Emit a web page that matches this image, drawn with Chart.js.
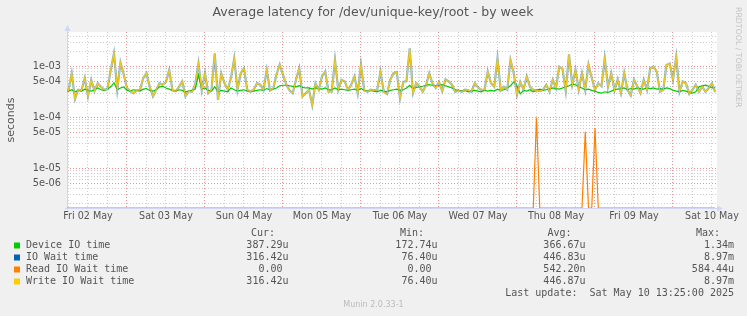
<!DOCTYPE html>
<html>
<head>
<meta charset="utf-8">
<title>Average latency for /dev/unique-key/root - by week</title>
<script src="https://cdn.jsdelivr.net/npm/chart.js@4.4.1/dist/chart.umd.min.js"></script>
<style>
    html, body { margin: 0; padding: 0; background: #f0f0f0; }
    canvas { display: block; }
</style>
</head>
<body>
<canvas id="chart" width="747" height="316"></canvas>
<script>
"use strict";

// x axis: hours since Fri 02 May 00:00, one sample per hour
var firstHour = 5;
var lastHour = 205;
var dayLabels = ["Fri 02 May", "Sat 03 May", "Sun 04 May", "Mon 05 May", "Tue 06 May",
    "Wed 07 May", "Thu 08 May", "Fri 09 May", "Sat 10 May"];

// values in microseconds
var deviceIo = [
    340, 330, 350, 320, 340, 330, 360, 340, 330, 350, 380, 350, 340, 360, 400, 480, 350, 380, 400, 340,
    330, 350, 340, 330, 360, 370, 340, 330, 350, 400, 410, 380, 360, 340, 330,
    350, 340, 320, 330, 340, 360, 680, 360, 380, 340, 330, 400, 320, 340, 330, 320, 380, 350, 330, 340,
    350, 330, 320, 330, 340, 350, 340, 370, 350, 360, 380, 420, 430,
    430, 420, 410, 400, 420, 390, 380, 380, 360, 380, 370, 360, 380, 350, 350, 380, 350, 360, 350, 340,
    350, 360, 340, 370, 340, 330, 340, 330, 320, 340, 330, 320, 340, 350,
    360, 340, 350, 380, 430, 370, 390, 400, 410, 430, 440, 430, 420, 430, 440, 420, 400, 380, 350, 340,
    330, 340, 320, 330, 340, 330, 320, 340, 330, 340, 330, 360, 340, 350,
    380, 420, 500, 420, 290, 340, 330, 350, 320, 340, 360, 340, 350, 360, 380, 370, 360, 380, 400, 420,
    450, 440, 400, 380, 350, 360, 340, 330, 310, 300, 320, 310, 330, 350,
    360, 370, 380, 350, 370, 360, 380, 370, 360, 380, 370, 380, 360, 370, 360, 380, 370, 340, 330, 320,
    340, 330, 310, 300, 320, 400, 420, 430, 410, 380, 387
];

var writeWait = [
    330,
    340, 740, 230, 350, 340, 590, 260, 550, 330, 470, 400, 350, 360, 860, 1830, 350, 1200, 700, 380, 330,
    300, 340, 350, 590, 740, 400, 260, 350, 470, 440, 500, 860, 340, 330,
    400, 510, 260, 330, 320, 450, 1160, 340, 740, 300, 350, 1830, 220, 740, 470, 350, 600, 1460, 350, 740,
    930, 350, 320, 350, 470, 440, 350, 860, 340, 370, 700, 1100, 690,
    450, 340, 300, 550, 930, 260, 300, 350, 175, 470, 350, 640, 800, 320, 320, 1350, 350, 550, 510, 350,
    440, 640, 300, 1100, 340, 320, 350, 340, 350, 800, 320, 290, 550, 740,
    780, 240, 500, 520, 2290, 300, 470, 410, 320, 430, 740, 470, 380, 500, 330, 560, 510, 440, 320, 340,
    320, 350, 340, 320, 470, 390, 350, 350, 800, 470, 400, 1460, 340, 400,
    350, 1350, 740, 280, 500, 350, 640, 400, 350, 340, 330, 350, 440, 320, 550, 380, 1000, 900, 330, 1750,
    440, 860, 350, 740, 350, 1100, 600, 350, 470, 410, 1460, 400, 740, 340,
    560, 300, 740, 350, 270, 550, 410, 300, 550, 350, 930, 1000, 800, 320, 350, 1080, 1150, 550, 1570, 320,
    510, 470, 290, 350, 440, 320, 405, 320, 380, 470, 316
];

// IO wait is read + write, and read is almost always zero
var ioWait = writeWait;

// read wait is zero except for these hours
var readWaitSpikes = { 150: 100, 165: 52, 168: 62 };

var yTickValues = [5, 10, 50, 100, 500, 1000];
var yTickLabels = ["5e-06", "1e-05", "5e-05", "1e-04", "5e-04", "1e-03"];

var legendRows = [
    { label: "Device IO time", color: "#00cc00", cur: "387.29u", min: "172.74u", avg: "366.67u", max: "1.34m" },
    { label: "IO Wait time", color: "#0066b3", cur: "316.42u", min: " 76.40u", avg: "446.83u", max: "8.97m" },
    { label: "Read IO Wait time", color: "#ff8000", cur: "0.00 ", min: "0.00 ", avg: "542.20n", max: "584.44u" },
    { label: "Write IO Wait time", color: "#ffcc00", cur: "316.42u", min: " 76.40u", avg: "446.87u", max: "8.97m" }
];
var lastUpdate = "Last update:  Sat May 10 13:25:00 2025";

var Y_MIN = 1.65;
var Y_MAX = 4800;

var hours = [];
for (var h = firstHour; h <= lastHour; h++) {
    hours.push(h);
}
var readWait = hours.map(function (hour) {
    return readWaitSpikes[hour] || 0;
});

var gridHours = [];
for (var g = 6; g <= 204; g += 6) {
    gridHours.push(g);
}
var yGridValues = [];
[1, 10, 100, 1000].forEach(function (decade) {
    for (var m = 1; m <= 9; m++) {
        var v = m * decade;
        if (v >= Y_MIN && v <= Y_MAX) {
            yGridValues.push(v);
        }
    }
});

var RED_GRID = "rgba(230, 100, 100, 0.7)";
var GRAY_GRID = "rgba(165, 165, 165, 0.55)";
var AXIS = "#cfd6f8";
var FONT = "#555555";

var munin = {
    id: "munin",
    beforeDraw: function (chart) {
        var ctx = chart.ctx;
        var a = chart.chartArea;
        ctx.save();
        ctx.fillStyle = "#f0f0f0";
        ctx.fillRect(0, 0, chart.width, chart.height);
        ctx.fillStyle = "#ffffff";
        ctx.fillRect(a.left, a.top, a.right - a.left, a.bottom - a.top);
        ctx.restore();
    },
    beforeDatasetsDraw: function (chart) {
        var ctx = chart.ctx;
        var a = chart.chartArea;
        ctx.save();
        ctx.strokeStyle = AXIS;
        ctx.fillStyle = AXIS;
        ctx.lineWidth = 1;
        ctx.beginPath();
        ctx.moveTo(a.left + 0.5, a.bottom + 2);
        ctx.lineTo(a.left + 0.5, a.top - 3);
        ctx.moveTo(a.left - 2, a.bottom + 0.5);
        ctx.lineTo(a.right + 2, a.bottom + 0.5);
        ctx.stroke();
        // arrows
        ctx.beginPath();
        ctx.moveTo(a.left + 0.5, a.top - 7);
        ctx.lineTo(a.left - 2.5, a.top - 1);
        ctx.lineTo(a.left + 3.5, a.top - 1);
        ctx.fill();
        ctx.beginPath();
        ctx.moveTo(a.right + 6, a.bottom + 0.5);
        ctx.lineTo(a.right, a.bottom - 2.5);
        ctx.lineTo(a.right, a.bottom + 3.5);
        ctx.fill();
        ctx.restore();
    },
    afterDraw: function (chart) {
        var ctx = chart.ctx;
        ctx.save();
        ctx.fillStyle = FONT;
        ctx.textBaseline = "middle";

        ctx.font = "12.5px 'DejaVu Sans'";
        ctx.textAlign = "center";
        ctx.fillText("Average latency for /dev/unique-key/root - by week", 373, 13);

        ctx.save();
        ctx.translate(11, 120);
        ctx.rotate(-Math.PI / 2);
        ctx.font = "11px 'DejaVu Sans'";
        ctx.fillText("seconds", 0, 0);
        ctx.restore();

        ctx.save();
        ctx.translate(738.5, 7);
        ctx.rotate(Math.PI / 2);
        ctx.font = "7.8px 'DejaVu Sans'";
        ctx.fillStyle = "#c4c4c4";
        ctx.textAlign = "left";
        ctx.fillText("RRDTOOL / TOBI OETIKER", 0, 0);
        ctx.restore();

        ctx.font = "8px 'DejaVu Sans'";
        ctx.fillStyle = "#bbbbbb";
        ctx.textAlign = "center";
        ctx.fillText("Munin 2.0.33-1", 373.5, 305);

        ctx.font = "10px 'DejaVu Sans Mono'";
        ctx.fillStyle = FONT;
        ctx.textAlign = "right";
        ctx.fillText("Cur:", 275, 233.5);
        ctx.fillText("Min:", 424, 233.5);
        ctx.fillText("Avg:", 571.5, 233.5);
        ctx.fillText("Max:", 720, 233.5);
        legendRows.forEach(function (row, i) {
            var y = 245.5 + i * 12;
            ctx.fillStyle = row.color;
            ctx.fillRect(14, y - 3, 6, 6);
            ctx.fillStyle = FONT;
            ctx.textAlign = "left";
            ctx.fillText(row.label, 26, y);
            ctx.textAlign = "right";
            ctx.fillText(row.cur, 288.5, y);
            ctx.fillText(row.min, 437.5, y);
            ctx.fillText(row.avg, 585.5, y);
            ctx.fillText(row.max, 734, y);
        });
        ctx.fillText(lastUpdate, 734, 293.5);
        ctx.restore();
    }
};

function line(label, data, color, width, order) {
    return {
        label: label,
        data: data,
        borderColor: color,
        borderWidth: width,
        pointRadius: 0,
        tension: 0,
        fill: false,
        order: order
    };
}

new Chart(document.getElementById("chart"), {
    type: "line",
    data: {
        labels: hours,
        datasets: [
            line("Device IO time", deviceIo, "#00cc00", 1.2, 3),
            line("IO Wait time", ioWait, "rgba(0, 102, 179, 0.5)", 2.2, 2),
            line("Read IO Wait time", readWait.map(function (v) {
                return v > 0 ? v : Y_MIN;
            }), "#ff8000", 1.2, 1),
            line("Write IO Wait time", writeWait, "rgba(255, 204, 0, 0.88)", 1.3, 0)
        ]
    },
    options: {
        responsive: false,
        devicePixelRatio: 1,
        animation: false,
        layout: { padding: { left: 0, right: 30, top: 32, bottom: 88 } },
        plugins: {
            legend: { display: false },
            tooltip: { enabled: false }
        },
        scales: {
            x: {
                type: "linear",
                min: 5.54,
                max: 205.54,
                afterBuildTicks: function (scale) {
                    scale.ticks = gridHours.map(function (v) {
                        return { value: v };
                    });
                },
                afterFit: function (scale) {
                    scale.height = 20;
                },
                ticks: {
                    autoSkip: false,
                    maxRotation: 0,
                    padding: 3,
                    color: FONT,
                    font: { family: "'DejaVu Sans'", size: 9.6 },
                    callback: function (value) {
                        return value % 24 === 12 ? dayLabels[(value - 12) / 24] : "";
                    }
                },
                grid: {
                    drawTicks: false,
                    color: function (c) {
                        return c.tick && c.tick.value % 24 === 0 ? RED_GRID : GRAY_GRID;
                    }
                },
                border: { display: false, dash: [1, 2] }
            },
            y: {
                type: "logarithmic",
                min: Y_MIN,
                max: Y_MAX,
                afterBuildTicks: function (scale) {
                    scale.ticks = yGridValues.map(function (v) {
                        return { value: v };
                    });
                },
                afterFit: function (scale) {
                    scale.width = 67;
                },
                ticks: {
                    autoSkip: false,
                    padding: 6,
                    color: FONT,
                    font: { family: "'DejaVu Sans'", size: 9.8 },
                    callback: function (value) {
                        var i = yTickValues.indexOf(value);
                        return i >= 0 ? yTickLabels[i] : "";
                    }
                },
                grid: {
                    drawTicks: false,
                    color: function (c) {
                        return c.tick && yTickValues.indexOf(c.tick.value) >= 0 ? RED_GRID : GRAY_GRID;
                    }
                },
                border: { display: false, dash: [1, 2] }
            }
        }
    },
    plugins: [munin]
});
</script>
</body>
</html>
